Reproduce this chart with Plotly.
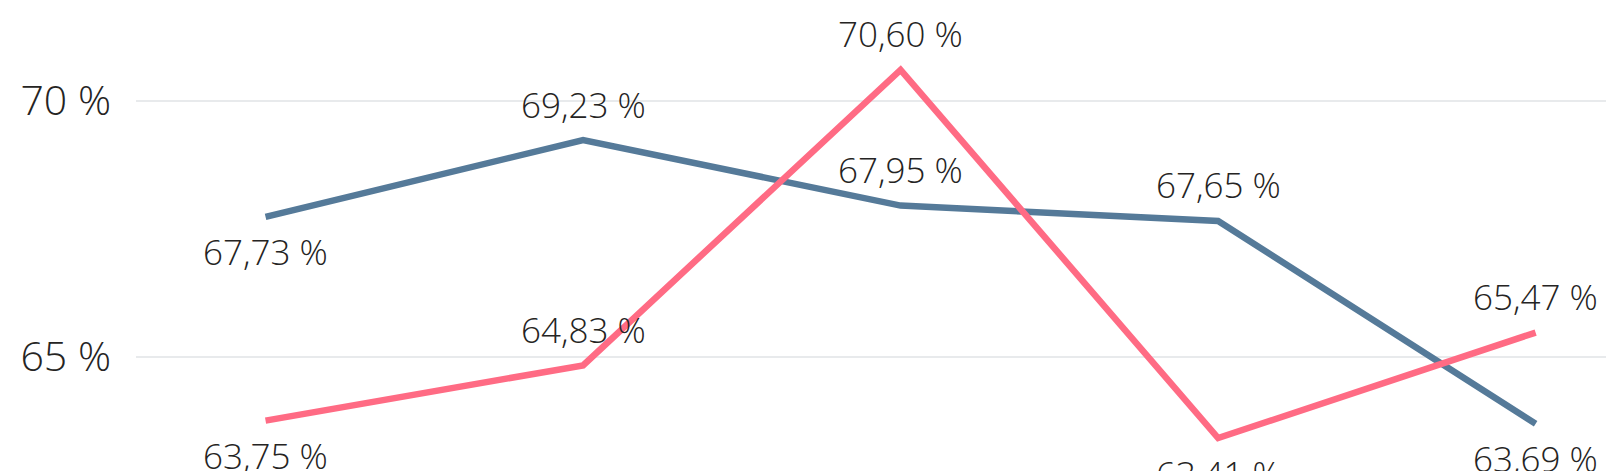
import plotly.graph_objects as go

categories = [0, 1, 2, 3, 4]
series_a = [67.73, 69.23, 67.95, 67.65, 63.69]
series_b = [63.75, 64.83, 70.60, 63.41, 65.47]
pos_a = ["below", "above", "above", "above", "below"]
pos_b = ["below", "above", "above", "below", "above"]
tick_vals = [65, 70]
tick_text = ["65 %", "70 %"]


def fmt(v):
    return f"{v:.2f}".replace(".", ",") + " %"


fig = go.Figure()
annotations = []
for vals, pos, color in [(series_a, pos_a, "#557a99"), (series_b, pos_b, "#ff6b84")]:
    fig.add_trace(go.Scatter(
        x=categories, y=vals, mode="lines",
        line=dict(color=color, width=6.5),
        cliponaxis=False, hoverinfo="skip", showlegend=False,
    ))
    for x, v, p in zip(categories, vals, pos):
        annotations.append(dict(
            x=x, y=v, xref="x", yref="y", text=fmt(v), showarrow=False,
            yanchor="middle", xanchor="center",
            yshift=36 if p == "above" else -35,
            font=dict(family="Open Sans", size=35, color="#252423", weight=300),
        ))

fig.update_layout(
    width=1614, height=471,
    margin=dict(l=128, r=0, t=0, b=0),
    paper_bgcolor="white", plot_bgcolor="white",
    annotations=annotations,
    xaxis=dict(range=[-0.408, 4.272], visible=False),
    yaxis=dict(range=[62.61, 71.81], tickvals=tick_vals, ticktext=tick_text,
               showgrid=True, gridcolor="#e8eaec", gridwidth=2, zeroline=False,
               showline=False, ticks="", ticklabelstandoff=24,
               tickfont=dict(family="Open Sans", size=41, color="#252423", weight=300)),
)
fig.write_html("out.html")
